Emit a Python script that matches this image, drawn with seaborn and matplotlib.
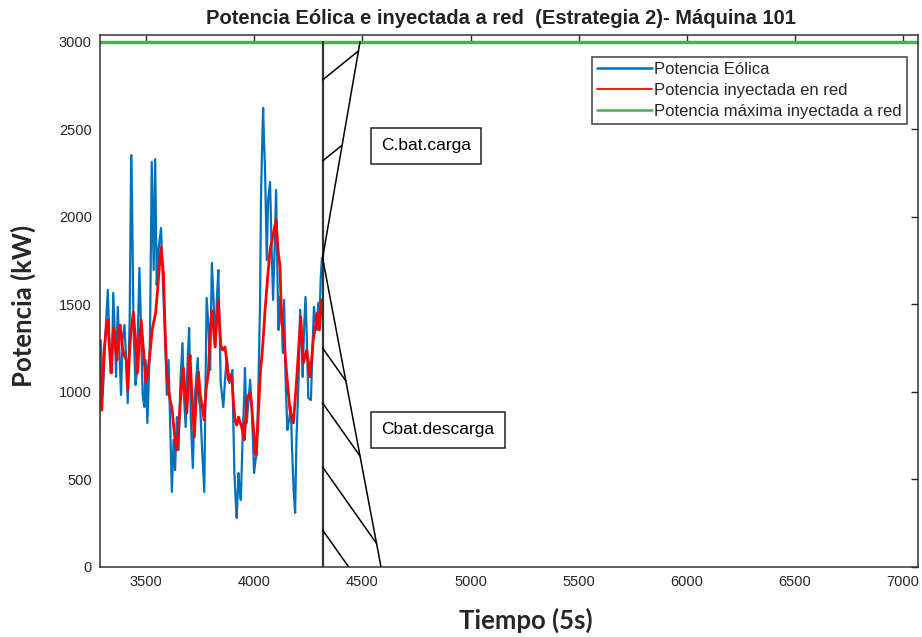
import numpy as np
import pandas as pd
import seaborn as sns
import matplotlib.pyplot as plt
from matplotlib.lines import Line2D

# Potencia eolica (kW)
t_eolica = [3283, 3290, 3299, 3313, 3323, 3331, 3342, 3348, 3357, 3361, 3369, 3378, 3384, 3391,
            3400, 3408, 3415, 3424, 3431, 3435, 3442, 3451, 3458, 3469, 3477, 3484, 3492, 3498,
            3506, 3514, 3518, 3526, 3535, 3542, 3549, 3557, 3569, 3579, 3588, 3596, 3604, 3611,
            3619, 3627, 3634, 3642, 3650, 3659, 3668, 3676, 3683, 3692, 3699, 3707, 3716, 3724,
            3731, 3739, 3745, 3750, 3759, 3769, 3775, 3780, 3789, 3796, 3804, 3812, 3819, 3827,
            3834, 3840, 3845, 3851, 3857, 3865, 3873, 3879, 3885, 3893, 3899, 3903, 3908, 3914,
            3919, 3927, 3932, 3938, 3947, 3953, 3957, 3965, 3974, 3981, 3988, 3994, 3999, 4006,
            4012, 4020, 4027, 4031, 4036, 4041, 4045, 4050, 4058, 4064, 4073, 4081, 4087, 4094,
            4101, 4107, 4112, 4119, 4126, 4132, 4138, 4145, 4153, 4161, 4169, 4175, 4182, 4189,
            4195, 4205, 4212, 4219, 4224, 4230, 4237, 4242, 4250, 4262, 4269, 4276, 4283, 4289,
            4296, 4302, 4307, 4313]
p_eolica = [783, 1297, 983, 1354, 1583, 1269, 1109, 1566, 1297, 1086, 1486, 1183, 983, 1297,
            1383, 1183, 937, 1411, 2354, 2097, 1354, 1040, 1126, 1709, 1354, 983, 914, 1183,
            823, 1126, 1314, 2314, 1697, 2331, 1611, 1811, 1937, 1583, 1297, 983, 1183, 840,
            429, 726, 554, 857, 669, 1069, 1280, 954, 800, 1183, 1366, 840, 566, 954,
            1069, 1194, 954, 914, 669, 429, 1069, 1537, 1354, 1126, 1737, 1526, 1257, 1526,
            1697, 1354, 1051, 983, 914, 1069, 1200, 1126, 1051, 1097, 1126, 840, 543, 383,
            280, 537, 440, 383, 766, 954, 1137, 823, 954, 1069, 914, 726, 537, 611,
            651, 1069, 1526, 2097, 2383, 2623, 2440, 2268, 1754, 2097, 2200, 1794, 1526, 1811,
            2154, 1680, 1354, 1543, 1469, 1223, 1526, 1069, 783, 840, 914, 669, 440, 309,
            726, 1069, 1469, 1297, 1086, 1354, 1543, 1354, 966, 954, 1240, 1486, 1411, 1354,
            1509, 1411, 1640, 1766]

# Potencia inyectada en red (kW)
t_red = [3283, 3295, 3306, 3315, 3323, 3331, 3338, 3349, 3357, 3365, 3373, 3380, 3389, 3398,
         3408, 3415, 3424, 3431, 3441, 3451, 3460, 3470, 3477, 3486, 3499, 3509, 3518, 3528,
         3537, 3544, 3553, 3562, 3569, 3580, 3588, 3596, 3604, 3611, 3619, 3627, 3634, 3642,
         3650, 3659, 3672, 3680, 3688, 3696, 3703, 3713, 3723, 3731, 3742, 3750, 3759, 3768,
         3777, 3788, 3796, 3804, 3810, 3819, 3827, 3834, 3845, 3853, 3865, 3872, 3880, 3888,
         3896, 3903, 3911, 3919, 3927, 3934, 3942, 3948, 3954, 3960, 3965, 3974, 3981, 3988,
         3993, 4001, 4008, 4015, 4022, 4029, 4035, 4041, 4050, 4061, 4073, 4087, 4101, 4110,
         4119, 4127, 4135, 4147, 4165, 4181, 4196, 4215, 4227, 4243, 4258, 4273, 4292, 4301,
         4312]
p_red = [1126, 897, 1240, 1354, 1411, 1240, 1109, 1366, 1269, 1183, 1354, 1383, 1269, 1211,
         1183, 1011, 1240, 1354, 1457, 1297, 1109, 1297, 1411, 1269, 1051, 1126, 1223, 1354,
         1411, 1451, 1583, 1726, 1829, 1680, 1354, 1097, 1011, 954, 914, 811, 726, 669,
         783, 954, 1137, 1011, 880, 1069, 1211, 954, 743, 954, 1114, 983, 926, 840,
         1011, 1109, 1354, 1463, 1383, 1257, 1411, 1526, 1269, 1240, 1257, 1183, 1069, 1097,
         1086, 954, 840, 811, 857, 829, 800, 754, 726, 840, 954, 983, 994, 926,
         840, 726, 640, 783, 954, 1126, 1200, 1297, 1469, 1640, 1811, 1897, 1983, 1811,
         1714, 1394, 1354, 1143, 897, 823, 1069, 1429, 1166, 1240, 1086, 1297, 1451, 1354,
         1526]

p_max = 3000

# zona rayada de la bateria
x_fin = 4316
y_vertice = 1766
x_sup = 4489
x_inf = 4586
rayas_sup = [2783, 2320]
rayas_inf = [1251, 937, 571, 211]
pend_sup = 1.0
pend_inf = -1.75

sns.set_theme(style="white")
plt.rcParams['font.family'] = ['Liberation Sans', 'DejaVu Sans']

fig = plt.figure(figsize=(9.22, 6.37), dpi=100)
ax = fig.add_axes([0.1085, 0.1099, 0.8872, 0.8352])

df_eol = pd.DataFrame({"t": t_eolica, "p": p_eolica})
df_red = pd.DataFrame({"t": t_red, "p": p_red})

sns.lineplot(data=df_eol, x="t", y="p", ax=ax, color="#0072BD", lw=1.6,
             sort=False, estimator=None)
sns.lineplot(data=df_red, x="t", y="p", ax=ax, color="#FF0000", lw=2.0,
             sort=False, estimator=None)
ax.axhline(p_max, color="#4DAF50", lw=2.5)

# contorno de la zona
ax.plot([x_fin, x_fin], [0, p_max], color="#333333", lw=1.6)
ax.plot([x_sup, x_fin, x_inf], [p_max, y_vertice, 0], color="black", lw=1.1)

k = (x_sup - x_fin) / (p_max - y_vertice)
for y0 in rayas_sup:
    y1 = (y0 - pend_sup * k * y_vertice) / (1 - pend_sup * k)
    x1 = x_fin + (y1 - y0) / pend_sup
    ax.plot([x_fin, x1], [y0, y1], color="black", lw=1.1)

m = (x_inf - x_fin) / y_vertice
for y0 in rayas_inf:
    y1 = (y0 + pend_inf * m * y_vertice) / (1 + pend_inf * m)
    x1 = x_fin + (y1 - y0) / pend_inf
    ax.plot([x_fin, x1], [y0, y1], color="black", lw=1.1)

caja = dict(boxstyle="square,pad=0.6", fc="white", ec="#222222", lw=1.1)
ax.text(4586, 2406, "C.bat.carga", fontsize=12.5, va="center", ha="left", bbox=caja, color="black")
ax.text(4586, 783, "Cbat.descarga", fontsize=12.5, va="center", ha="left", bbox=caja, color="black")

ax.set_xlim(3287, 7069)
ax.set_ylim(0, 3040)
ax.set_xticks([3500, 4000, 4500, 5000, 5500, 6000, 6500, 7000])
ax.set_yticks([0, 500, 1000, 1500, 2000, 2500, 3000])
ax.tick_params(direction="in", length=5, width=1, top=True, right=True,
               labelsize=10.5, colors="#262626", pad=6)
for s in ax.spines.values():
    s.set_color("#333333")
    s.set_linewidth(1.1)

ax.set_title("Potencia Eólica e inyectada a red  (Estrategia 2)- Máquina 101",
             fontsize=14.5, fontweight="bold", color="#222222", pad=8, x=0.49)
ax.set_xlabel("Tiempo (5s)", fontsize=18.5, fontweight="bold", family="Lato")
ax.set_ylabel("Potencia (kW)", fontsize=18.5, fontweight="bold", family="Lato")
ax.xaxis.set_label_coords(0.52, -0.076)
ax.yaxis.set_label_coords(-0.078, 0.49)

handles = [Line2D([], [], color="#0072BD", lw=1.8),
           Line2D([], [], color="#FF0000", lw=1.3),
           Line2D([], [], color="#4DAF50", lw=1.8)]
labels = ["Potencia Eólica", "Potencia inyectada en red", "Potencia máxima inyectada a red"]
leg = ax.legend(handles, labels, loc="upper right", bbox_to_anchor=(0.9866, 0.9586),
                borderaxespad=0, fontsize=12, handlelength=3.3, handletextpad=0.15,
                labelspacing=0.35, frameon=True, fancybox=False, borderpad=0.3)
leg.get_frame().set_edgecolor("#222222")
leg.get_frame().set_linewidth(1.2)

fig.savefig("out.png", dpi=100)
